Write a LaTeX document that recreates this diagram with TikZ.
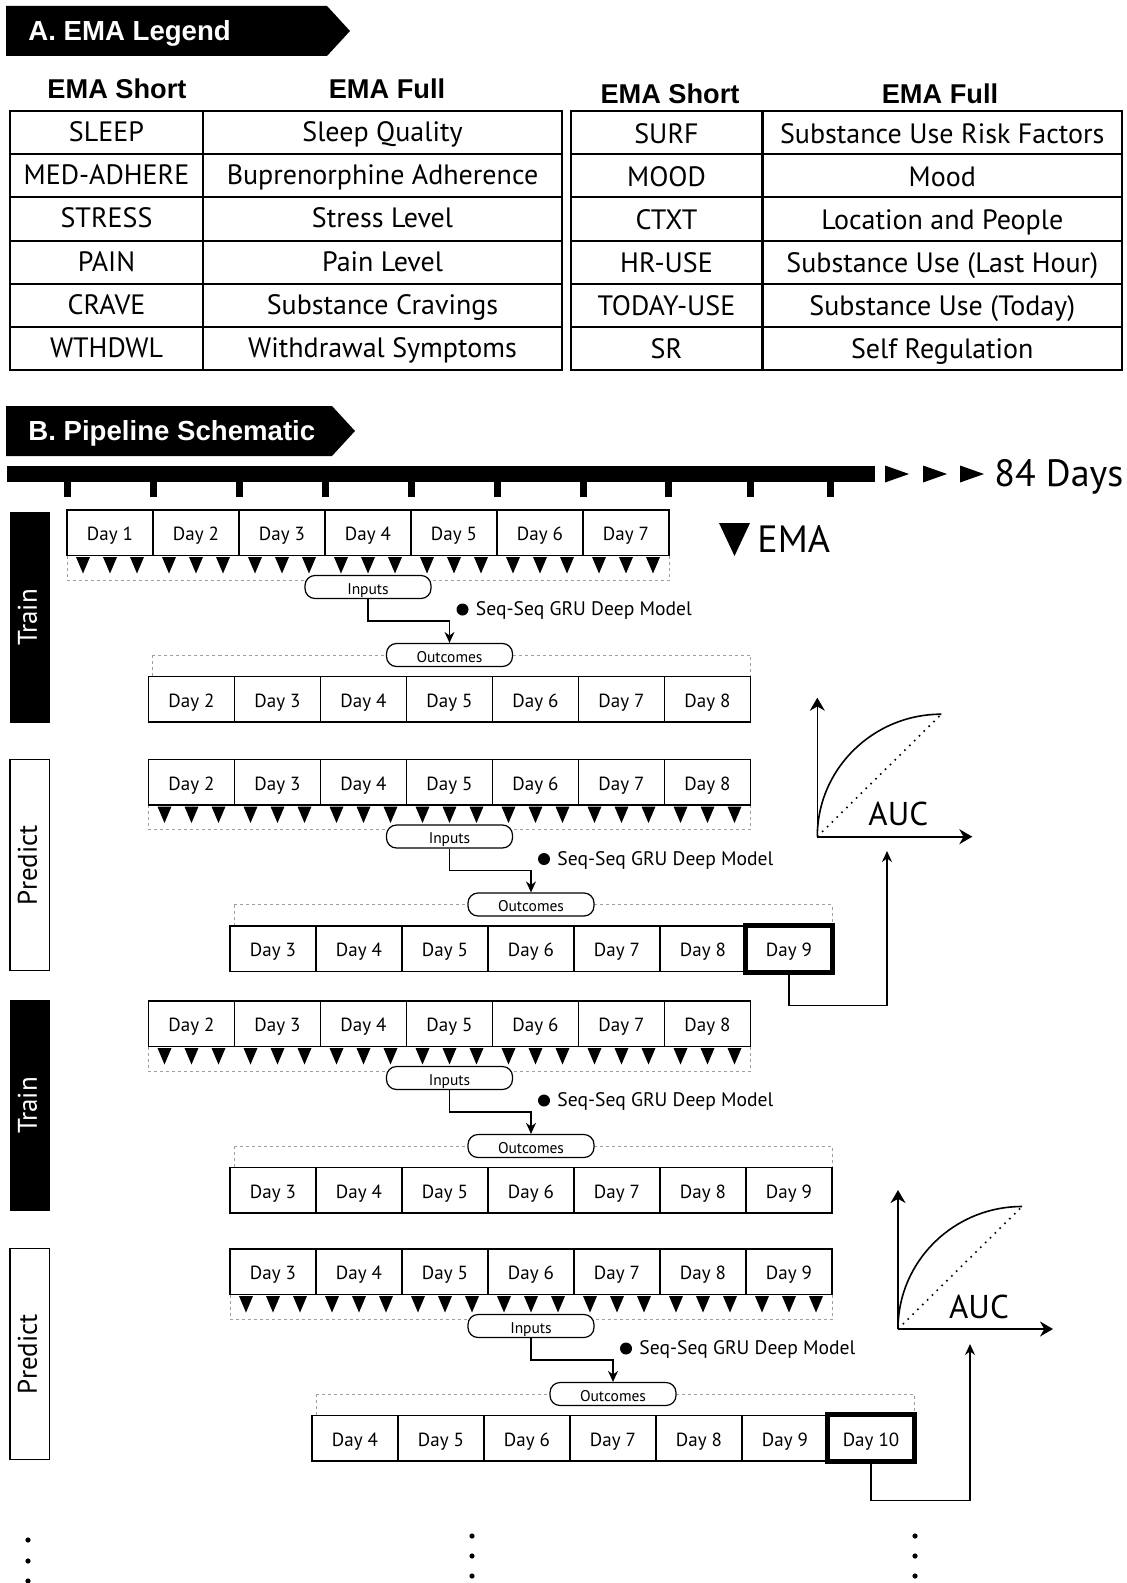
\documentclass[tikz,border=0pt]{standalone}
\usepackage{fontspec}
\setmainfont{PT Sans}
\newfontfamily\hfont{Liberation Sans}
\usetikzlibrary{arrows.meta}
\tikzset{
  hdrtxt/.style={text=white, font=\hfont\bfseries\fontsize{13.8}{16}\selectfont, anchor=west, inner sep=0, text height=0.93em, text depth=0pt},
  colhdr/.style={font=\hfont\bfseries\fontsize{13.6}{16}\selectfont, inner sep=0, text height=0.98em, text depth=0pt},
  cell/.style={draw, line width=1pt, minimum height=21.585pt, inner sep=0, font=\fontsize{14}{16}\selectfont, text height=0.9em, text depth=0pt},
  rcell/.style={cell, text height=1.05em},
  daybox/.style={draw, fill=white, line width=0.75pt, minimum width=43pt, minimum height=22.75pt, inner sep=0, font=\fontsize{9.5}{11}\selectfont, text height=0.8em, text depth=0pt},
  boldline/.style={line width=2.4pt},
  brk/.style={draw=gray!75, dash pattern=on 1.5pt off 1.5pt, line width=0.4pt},
  pill/.style={draw, fill=white, rounded corners=5pt, line width=0.6pt, minimum width=63pt, minimum height=11.5pt, inner sep=0, font=\fontsize{7.75}{9}\selectfont, text height=0.7em, text depth=0pt},
  conn/.style={line width=0.7pt, -{Stealth[length=5.5pt,width=5pt]}},
  axisarr/.style={line width=0.8pt, -{Stealth[length=6.5pt,width=7.5pt]}},
  modeldot/.style={circle, fill=black, minimum size=6pt, inner sep=0},
  modeltxt/.style={anchor=west, inner sep=0, font=\fontsize{9.8}{11}\selectfont, text height=0.7em, text depth=0pt},
  trainlbl/.style={fill=black, text=white, rotate=90, minimum width=105.5pt, minimum height=19.75pt, inner sep=0, font=\fontsize{13.5}{15}\selectfont, text height=0.7em, text depth=0pt},
  predlbl/.style={draw, line width=0.8pt, rotate=90, minimum width=105.5pt, minimum height=19.75pt, inner sep=0, font=\fontsize{13.5}{15}\selectfont, text height=0.7em, text depth=0pt},
  bigtxt/.style={inner sep=0, font=\fontsize{19}{21}\selectfont},
  auctxt/.style={inner sep=0, font=\fontsize{16.5}{18}\selectfont, text height=0.7em, text depth=0pt},
}
% #1 name, #2 left x, #3 top y, #4 first day
\newcommand\dayrow[4]{%
  \foreach \k in {0,...,6}{%
    \pgfmathtruncatemacro\dd{#4+\k}%
    \node[daybox] (#1\k) at ({#2+86*\k+43},{#3+22.75}) {Day \dd};
  }%
}
% #1 left x, #2 row bottom y
\newcommand\ematris[2]{%
  \foreach \k in {0,...,6}{\foreach \j in {0,1,2}{%
    \fill ({#1+86*\k+16+27*\j-7},{#2+1.5}) -- ++(14,0) -- ++(-7,16.5) -- cycle;
  }}%
}
% #1 T, #2 in left, #3 out left, #4 first day, #5 name
\newcommand\pipeblock[5]{%
  \draw[brk] (#2,{#1+45.5}) rectangle ({#2+602},{#1+70});
  \draw[brk] ({#3+4},{#1+145}) rectangle ({#3+602},{#1+166.5});
  \dayrow{#5i}{#2}{#1}{#4}
  \ematris{#2}{#1+45.5}
  \pgfmathtruncatemacro\nd{#4+1}%
  \dayrow{#5o}{#3}{#1+166.5}{\nd}
  \node[pill] (#5in) at ({#2+301},{#1+77}) {Inputs};
  \node[pill] (#5out) at ({#3+301},{#1+145}) {Outcomes};
  \draw[conn] (#5in) -- ++(0,34) -| (#5out);
  \node[modeldot] (#5dot) at ({#3+314},{#1+99.5}) {};
  \node[modeltxt] (#5mdl) at ({#3+327},{#1+98.5}) {Seq-Seq GRU Deep Model};
}
% #1 ox, #2 oy, #3 name
\newcommand\aucplot[3]{%
  \coordinate (#3o) at (#1,#2);
  \coordinate (#3y) at (#1,{#2-139});
  \coordinate (#3x) at ({#1+155},#2);
  \coordinate (#3e) at ({#1+124},{#2-122.5});
  \draw[axisarr] (#3o) -- (#3y);
  \draw[axisarr] (#3o) -- (#3x);
  \draw[line width=0.8pt] (#3o) .. controls +(0,-68) and +(-68,0) .. (#3e);
  \draw[line width=0.8pt, dash pattern=on 0.8pt off 2.6pt] (#3o) -- (#3e);
  \node[auctxt] (#3t) at ({#1+81},{#2-18}) {AUC};
}
\begin{document}
\begin{tikzpicture}[x=0.5pt,y=-0.5pt]
\useasboundingbox (0,0) rectangle (1126,1583);
\fill[white] (0,0) rectangle (1126,1583);

% ---------- A. EMA Legend ----------
\fill (6,6) -- (327,6) -- (350,31) -- (327,56) -- (6,56) -- cycle;
\node[hdrtxt] (hA) at (28,31) {A. EMA Legend};

\node[colhdr] (lh1) at (117,89) {EMA Short};
\node[colhdr] (lh2) at (387,89) {EMA Full};
\node[colhdr] (rh1) at (670,94) {EMA Short};
\node[colhdr] (rh2) at (940,94) {EMA Full};

\foreach \s/\f [count=\i from 0] in {SLEEP/Sleep Quality, MED-ADHERE/Buprenorphine Adherence, STRESS/Stress Level, PAIN/Pain Level, CRAVE/Substance Cravings, WTHDWL/Withdrawal Symptoms}{
  \node[cell, minimum width=96.5pt] (ls\i) at (106.5,{111+43.17*(\i+0.5)}) {\s};
  \node[cell, minimum width=179.5pt] (lf\i) at (382.5,{111+43.17*(\i+0.5)}) {\f};
}
\foreach \s/\f [count=\i from 0] in {SURF/Substance Use Risk Factors, MOOD/Mood, CTXT/Location and People, HR-USE/{Substance Use (Last Hour)}, TODAY-USE/{Substance Use (Today)}, SR/Self Regulation}{
  \node[rcell, minimum width=95.95pt] (rs\i) at (666.5,{111+43.17*(\i+0.5)}) {\s};
  \node[rcell, minimum width=179.75pt] (rf\i) at (942.25,{111+43.17*(\i+0.5)}) {\f};
}

% ---------- B. Pipeline Schematic ----------
\fill (6,406) -- (332,406) -- (355,431) -- (332,456) -- (6,456) -- cycle;
\node[hdrtxt] (hB) at (28,431) {B. Pipeline Schematic};

% timeline
\fill (7,466) rectangle (875,481.5);
\foreach \x in {67.7,153.5,239.3,325,411,497,583,668.6,750,830}
  \fill ({\x-3.5},481) rectangle ({\x+3.5},496.5);
\foreach \x in {885,923,960}
  \fill (\x,465.5) -- ({\x+24},474) -- (\x,482.5) -- cycle;
\node[bigtxt, anchor=base west] (days) at (994,486.7) {84 Days};

% EMA marker legend
\fill (719,523) -- (750,523) -- (734.5,556) -- cycle;
\node[bigtxt, anchor=base west] (emalbl) at (757,552.7) {EMA};

% side labels
\node[trainlbl] (lbl1) at (29.75,617.5) {Train};
\node[predlbl]  (lbl2) at (29.75,865) {Predict};
\node[trainlbl] (lbl3) at (29.75,1105.5) {Train};
\node[predlbl]  (lbl4) at (29.75,1354) {Predict};

% blocks
\pipeblock{510}{67}{148.5}{1}{a}
\pipeblock{759.5}{148.5}{230}{2}{b}
\pipeblock{1001}{148.5}{230}{2}{c}
\pipeblock{1249}{230}{312}{3}{d}

% bold final days
\draw[boldline] (bo6.north west) rectangle (bo6.south east);
\draw[boldline] (do6.north west) rectangle (do6.south east);

% AUC plots
\aucplot{817.3}{836.7}{p}
\aucplot{898}{1329}{q}

\coordinate (pin) at (887,851);
\coordinate (qin) at (970,1344);
\draw[conn] (bo6) -- ++(0,57) -| (pin);
\draw[conn] (do6) -- ++(0,62) -| (qin);

% continuation dots
\foreach \x/\y in {28/1540, 28/1561, 28/1581, 472/1536, 472/1556, 472/1576, 915/1536, 915/1556, 915/1576}
  \fill (\x,\y) circle[radius=1.3pt];
\end{tikzpicture}
\end{document}
